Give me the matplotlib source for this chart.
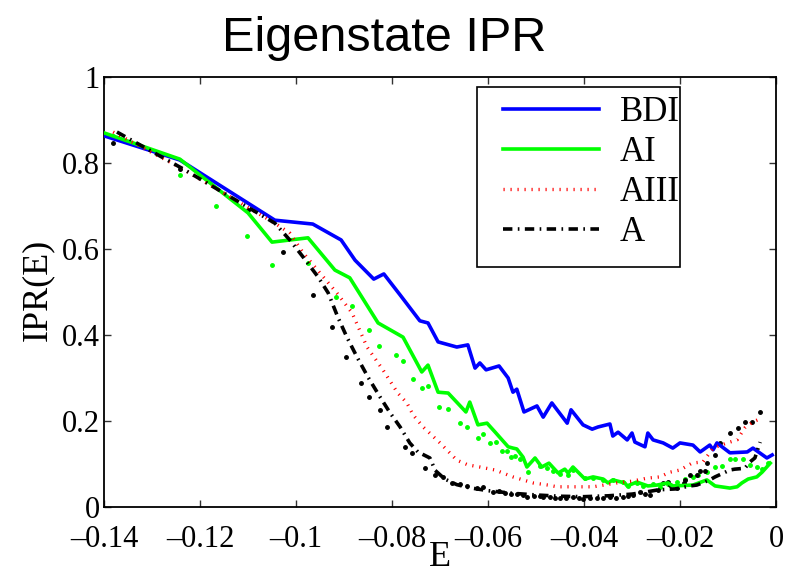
import numpy as np
import matplotlib
matplotlib.use("Agg")
import matplotlib.pyplot as plt
from matplotlib.patches import Rectangle

# ---- data ----
e_bdi = [-0.1405, -0.1242, -0.1044, -0.0965, -0.0906, -0.0877, -0.0838, -0.0817, -0.0783, -0.0742,
         -0.0725, -0.0704, -0.0665, -0.0642, -0.0627, -0.0617, -0.0604, -0.0577, -0.0558, -0.0548,
         -0.0540, -0.0525, -0.0498, -0.0485, -0.0467, -0.0435, -0.0427, -0.0402, -0.0383, -0.0371,
         -0.0346, -0.0340, -0.0329, -0.0310, -0.0300, -0.0294, -0.0273, -0.0267, -0.0256, -0.0235,
         -0.0215, -0.0200, -0.0173, -0.0158, -0.0138, -0.0131, -0.0123, -0.0096, -0.0060, -0.0048,
         -0.0019, -0.0008]
ipr_bdi = [0.865, 0.807, 0.667, 0.658, 0.621, 0.574, 0.530, 0.542, 0.493, 0.433,
           0.428, 0.384, 0.372, 0.377, 0.323, 0.335, 0.319, 0.328, 0.300, 0.267,
           0.274, 0.221, 0.235, 0.209, 0.242, 0.195, 0.226, 0.191, 0.181, 0.186,
           0.193, 0.165, 0.174, 0.156, 0.172, 0.151, 0.140, 0.172, 0.156, 0.149,
           0.137, 0.149, 0.144, 0.128, 0.144, 0.133, 0.149, 0.126, 0.128, 0.137,
           0.114, 0.121]

e_ai = [-0.1405, -0.1242, -0.1100, -0.1050, -0.0975, -0.0919, -0.0888, -0.0829, -0.0777, -0.0738,
        -0.0725, -0.0704, -0.0683, -0.0646, -0.0638, -0.0621, -0.0602, -0.0585, -0.0558, -0.0548,
        -0.0540, -0.0527, -0.0519, -0.0502, -0.0488, -0.0473, -0.0454, -0.0440, -0.0433, -0.0423,
        -0.0398, -0.0381, -0.0360, -0.0350, -0.0340, -0.0315, -0.0310, -0.0290, -0.0267, -0.0248,
        -0.0225, -0.0215, -0.0173, -0.0144, -0.0127, -0.0096, -0.0081, -0.0071, -0.0058, -0.0040,
        -0.0029, -0.0012]
ipr_ai = [0.872, 0.809, 0.684, 0.616, 0.626, 0.551, 0.533, 0.428, 0.395, 0.314,
          0.330, 0.267, 0.265, 0.221, 0.244, 0.191, 0.195, 0.174, 0.140, 0.137,
          0.135, 0.116, 0.093, 0.114, 0.093, 0.102, 0.079, 0.088, 0.079, 0.093,
          0.065, 0.070, 0.065, 0.056, 0.063, 0.056, 0.049, 0.058, 0.049, 0.051,
          0.056, 0.049, 0.051, 0.063, 0.049, 0.044, 0.047, 0.056, 0.065, 0.070,
          0.081, 0.102]

e_aiii = [-0.1381, -0.1242, -0.1044, -0.1013, -0.0985, -0.0950, -0.0915, -0.0883, -0.0852, -0.0819,
          -0.0788, -0.0769, -0.0756, -0.0735, -0.0700, -0.0665, -0.0642, -0.0617, -0.0585, -0.0548,
          -0.0506, -0.0475, -0.0456, -0.0381, -0.0331, -0.0300, -0.0269, -0.0242, -0.0221, -0.0200,
          -0.0175, -0.0152, -0.0131, -0.0102, -0.0081, -0.0065, -0.0048, -0.0029]
ipr_aiii = [0.872, 0.790, 0.660, 0.637, 0.591, 0.544, 0.498, 0.451, 0.372, 0.319,
            0.265, 0.242, 0.214, 0.186, 0.149, 0.109, 0.098, 0.093, 0.086, 0.070,
            0.056, 0.051, 0.047, 0.047, 0.056, 0.060, 0.067, 0.070, 0.081, 0.086,
            0.102, 0.105, 0.137, 0.149, 0.156, 0.184, 0.198, 0.207]

e_a = [-0.1373, -0.1238, -0.1044, -0.1013, -0.0985, -0.0954, -0.0933, -0.0913, -0.0894, -0.0873,
       -0.0850, -0.0825, -0.0804, -0.0783, -0.0763, -0.0746, -0.0721, -0.0710, -0.0690, -0.0665,
       -0.0640, -0.0600, -0.0550, -0.0500, -0.0450, -0.0400, -0.0350, -0.0300, -0.0270, -0.0245,
       -0.0210, -0.0179, -0.0165, -0.0138, -0.0127, -0.0096, -0.0086, -0.0065, -0.0054, -0.0044,
       -0.0033]
ipr_a = [0.872, 0.788, 0.660, 0.621, 0.581, 0.535, 0.498, 0.442, 0.395, 0.349,
         0.302, 0.256, 0.219, 0.186, 0.149, 0.128, 0.114, 0.085, 0.065, 0.052,
         0.045, 0.038, 0.032, 0.028, 0.025, 0.024, 0.026, 0.030, 0.035, 0.040,
         0.042, 0.049, 0.051, 0.063, 0.070, 0.086, 0.088, 0.090, 0.105, 0.114,
         0.151]

# unlabeled point series (green and black dots)
e_gdots = [-0.1381, -0.1242, -0.1167, -0.1102, -0.1050, -0.0975, -0.0917, -0.0883, -0.0848, -0.0827,
           -0.0792, -0.0777, -0.0756, -0.0738, -0.0725, -0.0702, -0.0683, -0.0658, -0.0644, -0.0621,
           -0.0610, -0.0596, -0.0583, -0.0571, -0.0560, -0.0552, -0.0544, -0.0533, -0.0517, -0.0492,
           -0.0477, -0.0465, -0.0450, -0.0433, -0.0423, -0.0398, -0.0381, -0.0360, -0.0340, -0.0319,
           -0.0308, -0.0290, -0.0277, -0.0256, -0.0242, -0.0225, -0.0206, -0.0190, -0.0173, -0.0163,
           -0.0144, -0.0127, -0.0113, -0.0096, -0.0085, -0.0069, -0.0054, -0.0040, -0.0029, -0.0017]
ipr_gdots = [0.862, 0.772, 0.700, 0.630, 0.563, 0.567, 0.488, 0.467, 0.412, 0.374,
             0.353, 0.340, 0.298, 0.277, 0.281, 0.233, 0.228, 0.195, 0.186, 0.160,
             0.170, 0.149, 0.151, 0.130, 0.130, 0.116, 0.119, 0.112, 0.081, 0.095,
             0.091, 0.084, 0.077, 0.074, 0.086, 0.067, 0.067, 0.063, 0.063, 0.058,
             0.049, 0.056, 0.049, 0.053, 0.047, 0.053, 0.058, 0.065, 0.070, 0.074,
             0.081, 0.093, 0.095, 0.112, 0.112, 0.112, 0.098, 0.093, 0.088, 0.102]

e_kdots = [-0.1381, -0.1242, -0.1100, -0.1027, -0.0965, -0.0925, -0.0896, -0.0865, -0.0848, -0.0825,
           -0.0810, -0.0773, -0.0758, -0.0731, -0.0710, -0.0694, -0.0675, -0.0658, -0.0644, -0.0623,
           -0.0610, -0.0590, -0.0578, -0.0565, -0.0552, -0.0540, -0.0528, -0.0519, -0.0505, -0.0492,
           -0.0485, -0.0470, -0.0460, -0.0450, -0.0437, -0.0423, -0.0410, -0.0402, -0.0388, -0.0373,
           -0.0360, -0.0346, -0.0333, -0.0319, -0.0308, -0.0298, -0.0283, -0.0272, -0.0263, -0.0246,
           -0.0235, -0.0225, -0.0221, -0.0206, -0.0192, -0.0190, -0.0179, -0.0165, -0.0158, -0.0148,
           -0.0144, -0.0127, -0.0117, -0.0096, -0.0079, -0.0065, -0.0050, -0.0033]
ipr_kdots = [0.847, 0.785, 0.690, 0.593, 0.494, 0.419, 0.349, 0.288, 0.256, 0.226,
             0.186, 0.140, 0.126, 0.091, 0.074, 0.070, 0.056, 0.053, 0.049, 0.044,
             0.047, 0.035, 0.037, 0.033, 0.031, 0.030, 0.027, 0.023, 0.025, 0.026,
             0.023, 0.024, 0.022, 0.021, 0.022, 0.023, 0.020, 0.019, 0.021, 0.021,
             0.020, 0.023, 0.022, 0.023, 0.025, 0.028, 0.035, 0.030, 0.028, 0.040,
             0.056, 0.058, 0.051, 0.044, 0.056, 0.063, 0.074, 0.074, 0.084, 0.084,
             0.102, 0.121, 0.149, 0.172, 0.184, 0.198, 0.198, 0.221]

labels = ["BDI", "AI", "AIII", "A"]
x_ticks = [-0.14, -0.12, -0.1, -0.08, -0.06, -0.04, -0.02, 0]
x_tick_labels = ["\u20130.14", "\u20130.12", "\u20130.1", "\u20130.08", "\u20130.06", "\u20130.04", "\u20130.02", "0"]
y_ticks = [0, 0.2, 0.4, 0.6, 0.8, 1]
y_tick_labels = ["0", "0.2", "0.4", "0.6", "0.8", "1"]

SERIF = "Liberation Serif"

fig = plt.figure(figsize=(7.93, 5.75), dpi=100)
ax = fig.add_axes([104 / 793, 68 / 575, 672 / 793, 430 / 575])

ax.plot(e_gdots, ipr_gdots, ".", color=(0, 1, 0), ms=5, zorder=2)
ax.plot(e_kdots, ipr_kdots, ".", color="k", ms=5, zorder=2)
l1, = ax.plot(e_bdi, ipr_bdi, "-", color=(0, 0, 1), lw=2.6, zorder=3)
l2, = ax.plot(e_ai, ipr_ai, "-", color=(0, 1, 0), lw=2.6, zorder=3)
l3, = ax.plot(e_aiii, ipr_aiii, color=(1, 0, 0), lw=2.4, linestyle=(0, (0.35, 1.75)),
              dash_capstyle="butt", zorder=3)
l4, = ax.plot(e_a, ipr_a, color="k", lw=2.6, linestyle=(0, (2.6, 1.5, 0.45, 1.5)),
              dash_capstyle="butt", zorder=3)

ax.set_xlim(-0.14, 0)
ax.set_ylim(0, 1)
ax.set_xticks(x_ticks)
ax.set_xticklabels(x_tick_labels, family=SERIF, fontsize=22)
ax.set_yticks(y_ticks)
ax.set_yticklabels(y_tick_labels, family=SERIF, fontsize=22)
ax.tick_params(direction="in", length=5, width=1, top=True, right=True, color="#333333")
ax.tick_params(axis="x", pad=13)
ax.tick_params(axis="y", pad=3)
for sp in ax.spines.values():
    sp.set_linewidth(1.3)

# legend box (MATLAB style) + entries
box = Rectangle((0.555, 0.558), 0.302, 0.419, transform=ax.transAxes,
                facecolor="white", edgecolor="k", lw=1.2, zorder=4)
ax.add_patch(box)
leg = ax.legend([l1, l2, l3, l4], labels, loc="upper left", bbox_to_anchor=(0.594, 0.955),
                frameon=False, borderpad=0, borderaxespad=0, handlelength=2.75,
                handletextpad=0.6, labelspacing=0.2, prop={"family": SERIF, "size": 25})
leg.set_zorder(5)

fig.text(384 / 793, 1 - 51 / 575, "Eigenstate IPR", ha="center", va="baseline",
         fontsize=35, family="Liberation Sans")
fig.text(440 / 793, 1 - 557 / 575, "E", ha="center", va="center", fontsize=26, family=SERIF)
fig.text(38 / 793, 1 - 290 / 575, "IPR(E)", ha="center", va="center", rotation=90,
         fontsize=26, family=SERIF)

fig.savefig("out.png", dpi=100)
